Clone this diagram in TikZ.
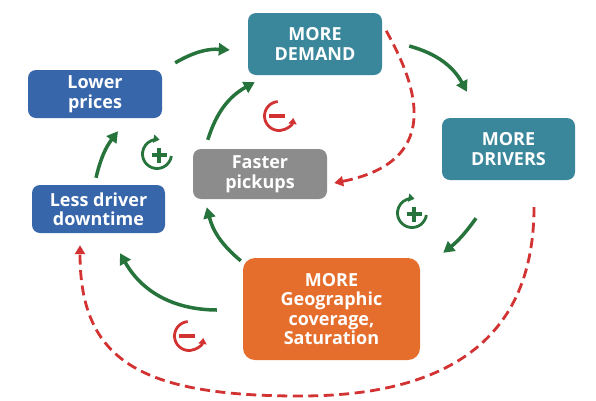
\documentclass[tikz,border=0pt]{standalone}
\usepackage{fontspec}
\setsansfont{Open Sans}
\usetikzlibrary{arrows.meta}

\definecolor{boxblue}{RGB}{56,102,170}
\definecolor{boxteal}{RGB}{58,135,155}
\definecolor{boxgray}{RGB}{140,140,140}
\definecolor{boxorange}{RGB}{230,110,45}
\definecolor{loopgreen}{RGB}{38,115,60}
\definecolor{dragred}{RGB}{210,50,50}

\begin{document}
\begin{tikzpicture}[x=1pt, y=1pt,
  box/.style={rounded corners=8pt, inner sep=0pt, align=center, text=white,
    font=\sffamily\bfseries\fontsize{18}{19.5}\selectfont,
    minimum width=134pt, minimum height=48pt},
  flow/.style={draw=loopgreen, line width=3.5pt, -{Triangle[length=11pt,width=12pt]}},
  drag/.style={draw=dragred, line width=2.8pt, dash pattern=on 10pt off 5.5pt,
    -{Triangle[length=9pt,width=10pt]}},
  sign/.style={line width=2.8pt, -{Triangle[length=6pt,width=8pt]}}]
  \useasboundingbox (0,0) rectangle (596,-400);
  % the six states
  \node[box, fill=boxblue] (prices) at (95,-94) {Lower\\prices};
  \node[box, fill=boxteal, minimum height=62pt] (demand) at (315,-44) {MORE\\DEMAND};
  \node[box, fill=boxteal, minimum width=133pt, minimum height=62pt] (drivers)
    at (508.5,-149) {MORE\\DRIVERS};
  \node[box, fill=boxblue, minimum width=133pt] (downtime) at (98.5,-209) {Less driver\\downtime};
  \node[box, fill=boxgray, minimum height=50pt] (pickups) at (260,-174) {Faster\\pickups};
  \node[box, fill=boxorange, minimum width=177pt, minimum height=102pt, rounded corners=12pt]
    (coverage) at (331.5,-309) {MORE\\Geographic\\coverage,\\Saturation};
  % reinforcing links
  \draw[flow] ([xshift=13pt,yshift=7pt]prices.north east) to[bend left=17]
    ([xshift=-18pt,yshift=-6pt]demand.west);
  \draw[flow] ([xshift=27pt,yshift=-2pt]demand.east) to[bend left=23]
    ([xshift=-41.5pt,yshift=26pt]drivers.north);
  \draw[flow] ([xshift=-32.5pt,yshift=-38pt]drivers.south) to[bend left=8]
    ([xshift=23pt,yshift=5pt]coverage.north east);
  \draw[flow] ([xshift=-26pt,yshift=-1pt]coverage.west) to[bend left=30]
    ([xshift=21.5pt,yshift=-20pt]downtime.south);
  \draw[flow] ([xshift=-2pt,yshift=-3pt]coverage.north west) to[bend left=18]
    ([xshift=14pt,yshift=-8pt]pickups.south west);
  \draw[flow] ([xshift=15pt,yshift=9pt]pickups.north west) to[bend left=22]
    ([xshift=7pt,yshift=-7pt]demand.south west);
  \draw[flow] ([xshift=-2.5pt,yshift=7pt]downtime.north) to[bend left=12]
    ([xshift=23pt,yshift=-13pt]prices.south);
  % balancing links, dashed
  \draw[drag] ([xshift=4pt,yshift=-18pt]demand.north east) .. controls +(25,-45) and +(116,23) ..
    ([xshift=7pt,yshift=-9pt]pickups.east);
  \coordinate (bottom) at (300,-396);
  \draw[drag] ([xshift=25.5pt,yshift=-27pt]drivers.south) .. controls +(0,-130) and +(150,0) ..
    (bottom) .. controls +(-160,0) and +(0,-115) .. ([xshift=-18.5pt,yshift=-12pt]downtime.south);
  % loop signs: plus for reinforcing, minus for balancing
  \foreach \x/\y in {157/-154, 412/-213} {
    \draw[sign, loopgreen] (\x,\y) ++(-8:14.5) arc[start angle=-8, end angle=-280, radius=14.5];
    \draw[loopgreen, line width=3.5pt] (\x-5.5,\y-1) -- (\x+9.5,\y-1) (\x+2,\y-8.5) -- (\x+2,\y+6.5);
  }
  \foreach \x/\y in {279/-116, 189/-336} {
    \draw[sign, dragred] (\x,\y) ++(95:14.5) arc[start angle=95, end angle=352, radius=14.5];
    \draw[dragred, line width=3.5pt] (\x-10,\y) -- (\x+6,\y);
  }
\end{tikzpicture}
\end{document}
